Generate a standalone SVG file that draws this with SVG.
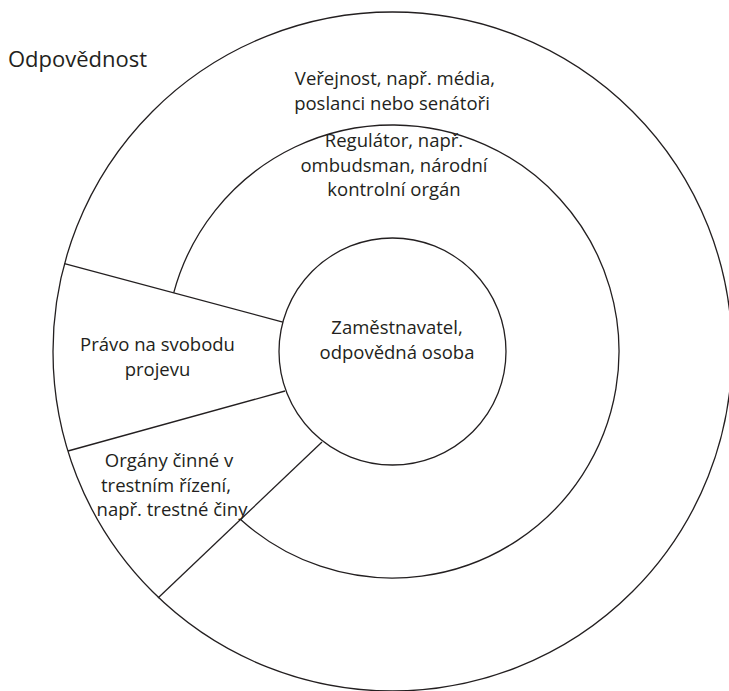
<svg xmlns="http://www.w3.org/2000/svg" width="729" height="691" viewBox="0 0 729 691">
  <style>
    .ring { fill: none; stroke: #231f20; stroke-width: 1.3; }
    .div { fill: none; stroke: #231f20; stroke-width: 1.3; }
    .lbl { font-family: "Open Sans", "Noto Sans", "Liberation Sans", sans-serif; font-size: 18.5px; fill: #231f20; text-anchor: middle; }
    .title { font-family: "Open Sans", "Noto Sans", "Liberation Sans", sans-serif; font-size: 22px; fill: #231f20; }
  </style>
  <rect width="729" height="691" fill="#ffffff"/>
  <text class="title" x="8" y="67">Odpovědnost</text>

  <g id="verejnost">
    <circle class="ring" cx="392.5" cy="351.5" r="339.5"/>
    <text class="lbl" x="395" y="85">Veřejnost, např. média,</text>
    <text class="lbl" x="392" y="110">poslanci nebo senátoři</text>
  </g>

  <g id="regulator">
    <path class="ring" d="M 173.7 292.9 A 226.5 226.5 0 1 1 240.6 519.5"/>
    <text class="lbl" x="394" y="147">Regulátor, např.</text>
    <text class="lbl" x="394" y="171.5">ombudsman, národní</text>
    <text class="lbl" x="394" y="196">kontrolní orgán</text>
  </g>

  <g id="zamestnavatel">
    <circle class="ring" cx="392.5" cy="351.5" r="113.5"/>
    <text class="lbl" x="397" y="334">Zaměstnavatel,</text>
    <text class="lbl" x="397" y="358.5">odpovědná osoba</text>
  </g>

  <g id="pravo">
    <text class="lbl" x="157.5" y="351">Právo na svobodu</text>
    <text class="lbl" x="157.5" y="375.5">projevu</text>
  </g>

  <g id="organy">
    <text class="lbl" x="169" y="467">Orgány činné v</text>
    <text class="lbl" x="166" y="491.5">trestním řízení,</text>
    <text class="lbl" x="172" y="516">např. trestné činy</text>
  </g>

  <g id="connectors">
    <line class="div" x1="64.5" y1="263.6" x2="282.9" y2="322.1"/>
    <line class="div" x1="68" y1="451" x2="285" y2="391"/>
    <line class="div" x1="322" y1="442" x2="158" y2="598"/>
  </g>
</svg>
